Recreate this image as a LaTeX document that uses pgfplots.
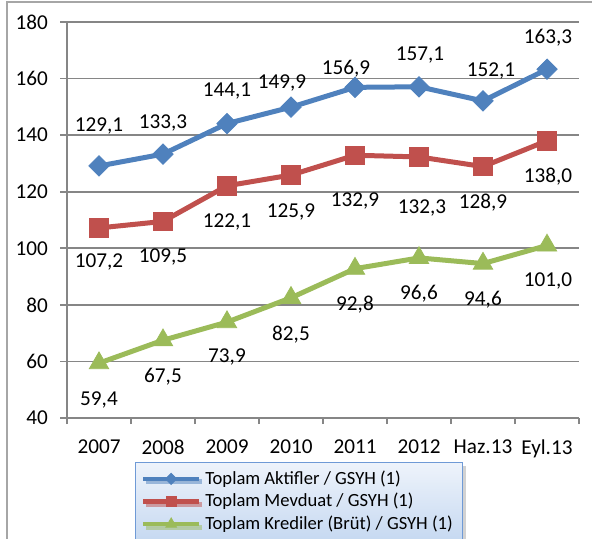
\documentclass[border=0pt]{standalone}
\usepackage{fontspec}
\setmainfont{Carlito}
\usepackage{pgfplots}
\usepackage{pgfplotstable}
\pgfplotsset{compat=1.18}
\usetikzlibrary{shadows}

\definecolor{blueS}{HTML}{4F81BD}
\definecolor{redS}{HTML}{C0504D}
\definecolor{greenS}{HTML}{9BBB59}
\definecolor{gridc}{HTML}{868686}
\definecolor{legtop}{HTML}{EEF3FB}
\definecolor{legbot}{HTML}{C6D9F1}
\definecolor{legdraw}{HTML}{6F9AD6}

% x y label-shift(dx dy, pt)
\pgfplotstableread{
x y dx dy
0 129.1 0 20
1 133.3 0 15.5
2 144.1 0 16.5
3 149.9 -4.5 12
4 156.9 -4.5 9.5
5 157.1 0.5 16
6 152.1 4 15
7 163.3 0.5 16
}\aktif
\pgfplotstableread{
x y dx dy
0 107.2 0 -17
1 109.5 0 -18
2 122.1 0 -18
3 125.9 0 -18.5
4 132.9 0 -23
5 132.3 1.5 -25.5
6 128.9 0 -18
7 138.0 0.5 -18
}\mevduat
\pgfplotstableread{
x y dx dy
0 59.4 0 -18.5
1 67.5 0 -18
2 73.9 0 -17.5
3 82.5 0 -18.5
4 92.8 0 -18
5 96.6 0 -18
6 94.6 0 -18
7 101.0 0.5 -18
}\kredi

% labels: 32pt per category, 198pt/140 per unit
\pgfplotsset{
    vlabels/.style={
        forget plot, draw=none, mark=none,
        nodes near coords={\pgfmathprintnumber[fixed,fixed zerofill,precision=1,use comma]{\pgfplotspointmeta}},
        every node near coord/.append style={anchor=center,
            black, font=\fontsize{10.6}{12}\selectfont, inner sep=0pt},
    },
}

\begin{document}
\begin{tikzpicture}
\useasboundingbox (-33.5pt,-60pt) rectangle (262.5pt,209pt);
\draw[gray!70, line width=0.8pt] (-30pt,-62pt) -- (-30pt,208pt) -- (265pt,208pt);
\begin{axis}[
    at={(0,0)}, anchor=south west,
    scale only axis, width=256pt, height=198pt,
    xmin=-0.5, xmax=7.5, ymin=40, ymax=180,
    xtick={0,...,7},
    xticklabels={2007,2008,2009,2010,2011,2012,Haz.13,Eyl.13},
    minor xtick={-0.5,0.5,...,7.5},
    ytick={40,60,...,180},
    axis x line*=bottom, axis y line*=left,
    axis line style={gridc, line width=0.8pt},
    tick align=outside,
    major tick length=3.5pt, minor tick length=3pt,
    major x tick style={draw=none},
    minor x tick style={draw=gridc, line width=0.8pt},
    ytick style={draw=gridc, line width=0.8pt},
    ymajorgrids, major grid style={gridc, line width=0.8pt},
    /pgf/number format/assume math mode=true,
    ticklabel style={font=\fontsize{10.6}{12}\selectfont},
    yticklabel style={xshift=-2.5pt},
    xticklabel style={yshift=-4pt},
    clip=false,
    legend style={at={(0.453,-0.111)}, anchor=north, draw=legdraw,
        top color=legtop, bottom color=legbot,
        line width=0.6pt, drop shadow={shadow xshift=1.5pt, shadow yshift=-1.5pt, fill=black!35},
        font=\fontsize{9.3}{11}\selectfont, inner xsep=3pt, inner ysep=2pt,
        row sep=-1pt, cells={anchor=west}},
    legend image code/.code={\draw[#1, line width=2.2pt, mark repeat=2, mark phase=2,
        every mark/.append style={scale=0.55}]
        plot coordinates {(0cm,0cm) (0.49cm,0cm) (0.98cm,0cm)};},
]
\addplot[color=blueS, line width=2.5pt, mark=square*, mark size=3.6pt,
    mark options={rotate=45, solid, line width=0.4pt}] table[x=x, y=y] {\aktif};
\addlegendentry{Toplam Aktifler / GSYH (1)}
\addplot[color=redS, line width=2.5pt, mark=square*, mark size=4.6pt,
    mark options={solid, line width=0.4pt}] table[x=x, y=y] {\mevduat};
\addlegendentry{Toplam Mevduat / GSYH (1)}
\addplot[color=greenS, line width=2.5pt, mark=triangle*, mark size=5.6pt,
    mark options={solid, line width=0.4pt}] table[x=x, y=y] {\kredi};
\addlegendentry{Toplam Krediler (Brüt) / GSYH (1)}

\addplot[vlabels, point meta=explicit] table[x expr=\thisrow{x}+\thisrow{dx}/32,
    y expr=\thisrow{y}+\thisrow{dy}*140/198, meta=y] {\aktif};
\addplot[vlabels, point meta=explicit] table[x expr=\thisrow{x}+\thisrow{dx}/32,
    y expr=\thisrow{y}+\thisrow{dy}*140/198, meta=y] {\mevduat};
\addplot[vlabels, point meta=explicit] table[x expr=\thisrow{x}+\thisrow{dx}/32,
    y expr=\thisrow{y}+\thisrow{dy}*140/198, meta=y] {\kredi};
\end{axis}
\end{tikzpicture}
\end{document}
